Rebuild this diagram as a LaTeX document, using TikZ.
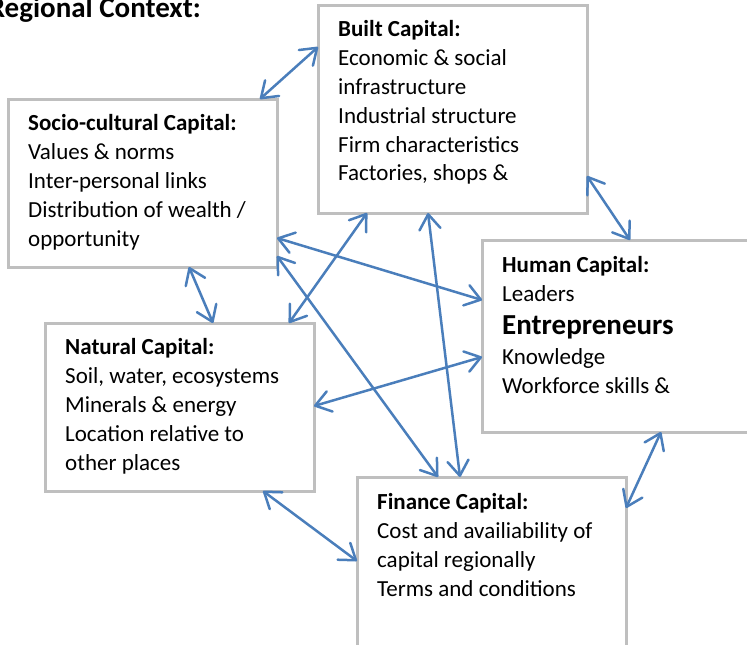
\documentclass[tikz,border=0pt]{standalone}
\usepackage{fontspec}
\setmainfont{Carlito}
\usetikzlibrary{arrows.meta,calc}
\definecolor{linkblue}{HTML}{4A7EBB}
\definecolor{framegray}{HTML}{BFBFBF}
\begin{document}
\begin{tikzpicture}[x=1pt,y=-1pt,
  capbox/.style={draw=framegray,line width=3pt,inner sep=0pt,outer sep=0pt,anchor=north west},
  boxtext/.style={anchor=north west,inner sep=0pt,align=left,font=\fontsize{23}{28.7}\selectfont},
  barb/.tip={Straight Barb[length=15pt,width=21pt,round]},
  link/.style={draw=linkblue,line width=2.5pt,barb-barb}]
\useasboundingbox (0,0) rectangle (747,645);

% title
\node[anchor=base east,inner sep=0pt,font=\fontsize{29}{34}\selectfont\bfseries] (title) at (201,17) {Regional Context:};

% the five capital boxes
\node[capbox,minimum width=269pt,minimum height=208pt] (built) at (318,5) {};
\node[capbox,minimum width=269pt,minimum height=168pt] (socio) at (8,99) {};
\node[capbox,minimum width=269pt,minimum height=168pt] (natural) at (45,323) {};
\node[capbox,minimum width=280pt,minimum height=192pt] (human) at (482,240) {};
\node[capbox,minimum width=269pt,minimum height=190pt] (finance) at (357,477) {};

% box contents (first baseline 21pt below the node top)
\node[boxtext] (builtText) at (338,15) {\rule{0pt}{21pt}\textbf{Built Capital:}\\[1pt]
  Economic \& social\\infrastructure\\Industrial structure\\Firm characteristics\\Factories, shops \&};
\node[boxtext] (socioText) at (28,109) {\rule{0pt}{21pt}\textbf{Socio-cultural Capital:}\\[1pt]
  Values \& norms\\Inter-personal links\\Distribution of wealth /\\opportunity};
\node[boxtext] (naturalText) at (65,333) {\rule{0pt}{21pt}\textbf{Natural Capital:}\\[1pt]
  Soil, water, ecosystems\\Minerals \& energy\\Location relative to\\other places};
\node[boxtext] (humanText) at (502,251) {\rule{0pt}{21pt}\textbf{Human Capital:}\\[1pt]
  Leaders\\[4pt]{\fontsize{29}{34}\selectfont\bfseries Entrepreneurs}\\[1.5pt]Knowledge\\Workforce skills \&};
\node[boxtext] (financeText) at (377,488) {\rule{0pt}{21pt}\textbf{Finance Capital:}\\[1pt]
  Cost and availiability of\\capital regionally\\Terms and conditions};

% two-way links between every pair of capitals
\draw[link] ($(socio.north west)+(252,0)$) -- ($(built.north west)+(0,42)$);
\draw[link] ($(built.north east)+(0,171)$) -- ($(human.north west)+(148,0)$);
\draw[link] ($(human.south west)+(179,0)$) -- ($(finance.north west)+(269,31)$);
\draw[link] ($(natural.south west)+(218,0)$) -- ($(finance.north west)+(0,84)$);
\draw[link] ($(socio.south west)+(181,0)$) -- ($(natural.north west)+(168,0)$);
\draw[link] ($(socio.north east)+(0,139)$) -- ($(human.north west)+(0,60)$);
\draw[link] ($(socio.north east)+(0,157)$) -- ($(finance.north west)+(81,0)$);
\draw[link] ($(built.south west)+(49,0)$) -- ($(natural.north west)+(244,0)$);
\draw[link] ($(built.south west)+(110,0)$) -- ($(finance.north west)+(103,0)$);
\draw[link] ($(human.north west)+(0,117)$) -- ($(natural.north east)+(0,83)$);
\end{tikzpicture}
\end{document}
